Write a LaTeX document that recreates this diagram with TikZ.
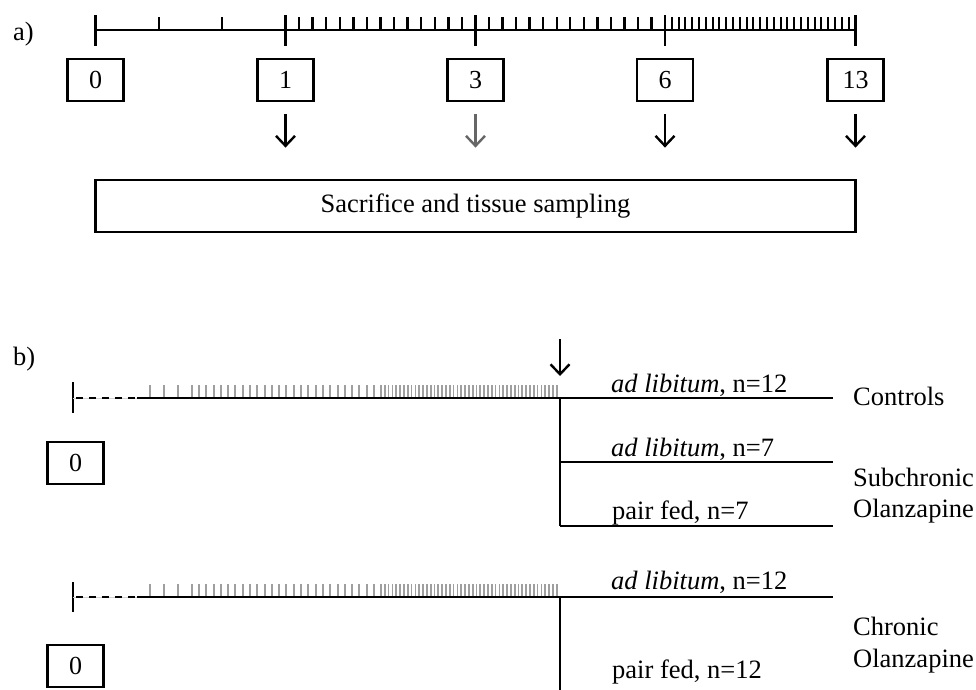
\documentclass[tikz,border=0pt]{standalone}
\usepackage{fontspec}
\setmainfont{Liberation Serif}
\usetikzlibrary{arrows.meta}
\begin{document}
\begin{tikzpicture}[x=1pt,y=-1pt,line width=2.4pt,
  every node/.style={font=\fontsize{26.5}{30}\selectfont},
  numbox/.style={draw, line width=2.4pt, minimum width=56pt, minimum height=42pt, inner sep=0pt, font=\fontsize{26}{30}\selectfont},
  bigbox/.style={draw, line width=2.8pt, minimum width=760pt, minimum height=52pt, inner sep=0pt},
  darr/.style={-{Straight Barb[length=10pt,width=19pt,line width=2.4pt]}, line width=2.4pt},
  gtick/.style={gray!75, line width=2pt},
  lbl/.style={anchor=base west, inner sep=0pt},
  dsh/.style={dash pattern=on 7pt off 6pt, line width=2.6pt}
]
\useasboundingbox (0,0) rectangle (976,689);

% ---------- a) ----------
\node[lbl] (la) at (12,40) {a)};
\draw (95.5,30) -- (855.5,30);
\foreach \x in {95.5,285.5,475.5,665,855.5} \draw (\x,15) -- (\x,46);
\foreach \i in {1,2} \draw ({95.5+\i*63.33},17) -- ({95.5+\i*63.33},30);
\foreach \i in {1,...,13} \draw ({285.5+\i*13.57},17) -- ({285.5+\i*13.57},30);
\foreach \i in {1,...,13} \draw ({475.5+\i*13.54},17) -- ({475.5+\i*13.54},30);
\foreach \i in {1,...,27} \draw[line width=2pt] ({665+\i*6.8},17) -- ({665+\i*6.8},30);

\node[numbox] (b0) at (95.5,80) {0};
\node[numbox] (b1) at (285.5,80) {1};
\node[numbox] (b3) at (475.5,80) {3};
\node[numbox] (b6) at (665,80) {6};
\node[numbox] (b13) at (855.5,80) {13};
\node[bigbox] (big) at (475.5,206) {Sacrifice and tissue sampling};

\draw[darr, shorten <=12pt, shorten >=31pt] (b1.south) -- (b1.south |- big.north);
\draw[darr, gray!80!black, shorten <=12pt, shorten >=31pt] (b3.south) -- (b3.south |- big.north);
\draw[darr, shorten <=12pt, shorten >=31pt] (b6.south) -- (b6.south |- big.north);
\draw[darr, shorten <=12pt, shorten >=31pt] (b13.south) -- (b13.south |- big.north);

% ---------- b) ----------
\node[lbl] (lb) at (12,365) {b)};

% top timeline
\draw (73,382) -- (73,413);
\draw[gray!35, line width=0.8pt] (73,398) -- (137,398);
\draw[dsh] (76,398) -- (137,398);
\draw (137,398) -- (833,398);
\foreach \i in {0,1,2} \draw[gtick] ({150+\i*13.9},385) -- ({150+\i*13.9},397);
\foreach \i in {0,...,25} \draw[gtick] ({191.7+\i*7.29},385) -- ({191.7+\i*7.29},397);
\foreach \i in {0,...,46} \draw[gtick, line width=1.7pt] ({381+\i*3.82},385) -- ({381+\i*3.82},397);
\draw (560,398) -- (560,526);
\draw (560,462) -- (833,462);
\draw (560,526) -- (833,526);
\coordinate (barrtop) at (560,339);
\coordinate (barrtip) at (560,376);
\draw[darr] (barrtop) -- (barrtip);
\node[numbox] (c0) at (75.5,463) {0};

\node[lbl] (t1) at (610,392) {\textit{ad libitum}, n=12};
\node[lbl] (g1) at (852,405) {Controls};
\node[lbl] (t2) at (610,456) {\textit{ad libitum}, n=7};
\node[lbl] (g2) at (852,486) {Subchronic};
\node[lbl] (g3) at (852,517) {Olanzapine};
\node[lbl] (t3) at (611,519) {pair fed, n=7};

% bottom timeline
\draw (73,582) -- (73,612);
\draw[gray!35, line width=0.8pt] (73,597) -- (137,597);
\draw[dsh] (76,597) -- (137,597);
\draw (137,597) -- (833,597);
\foreach \i in {0,1,2} \draw[gtick] ({150+\i*13.9},584) -- ({150+\i*13.9},596);
\foreach \i in {0,...,25} \draw[gtick] ({191.7+\i*7.29},584) -- ({191.7+\i*7.29},596);
\foreach \i in {0,...,46} \draw[gtick, line width=1.7pt] ({381+\i*3.82},584) -- ({381+\i*3.82},596);
\draw (560,597) -- (560,692);
\node[numbox] (c1) at (75.5,666) {0};

\node[lbl] (t4) at (610,589) {\textit{ad libitum}, n=12};
\node[lbl] (g4) at (852,635) {Chronic};
\node[lbl] (g5) at (852,667) {Olanzapine};
\node[lbl] (t5) at (611,678) {pair fed, n=12};
\end{tikzpicture}
\end{document}
